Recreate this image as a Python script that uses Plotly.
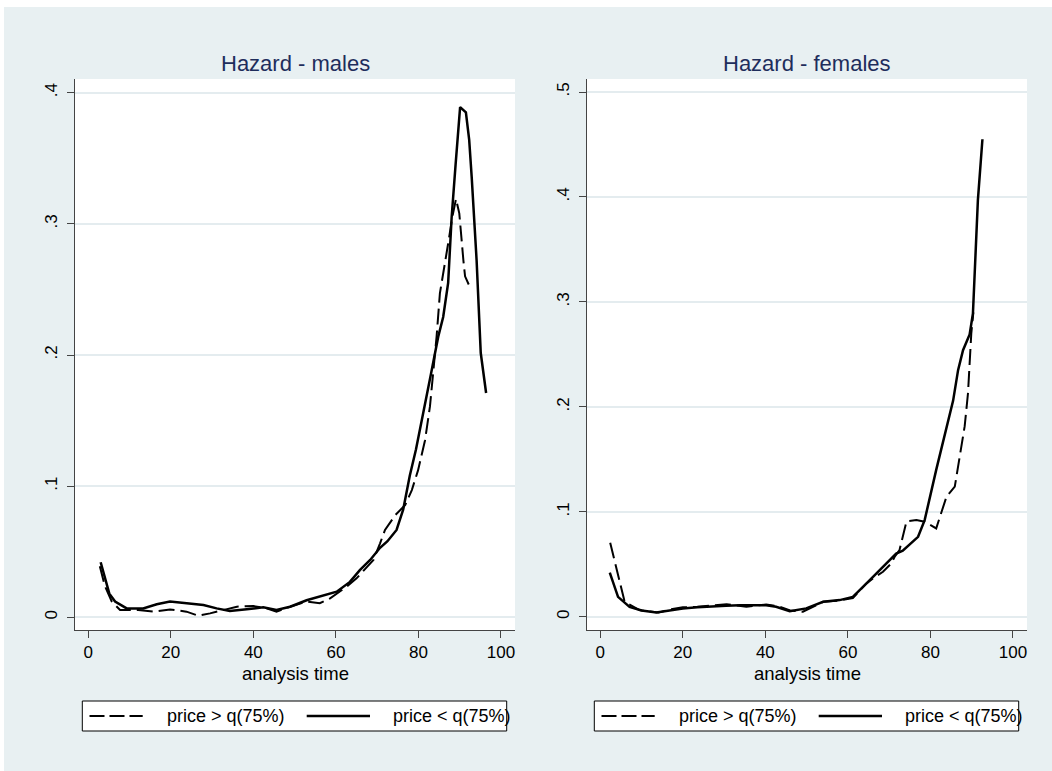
import plotly.graph_objects as go

W, H = 1052, 771

# ---------------- data ----------------
legend_labels = ["price > q(75%)", "price < q(75%)"]
panel_titles = ["Hazard - males", "Hazard - females"]
x_title = "analysis time"
x_ticks = [0, 20, 40, 60, 80, 100]
y_ticks_m = [0, 0.1, 0.2, 0.3, 0.4]
y_ticktext_m = ["0", ".1", ".2", ".3", ".4"]
y_ticks_f = [0, 0.1, 0.2, 0.3, 0.4, 0.5]
y_ticktext_f = ["0", ".1", ".2", ".3", ".4", ".5"]

# males, price > q(75%) (dashed)
m_hi_x = [2.8, 4.0, 5.7, 7.7, 10.0, 12.1, 15.8, 19.8, 23.8, 26.7, 29.5, 32.7, 36.0, 40.0, 43.2,
          45.6, 48.9, 52.9, 56.1, 58.6, 62.6, 65.0, 67.5, 69.1, 70.7, 71.9, 74.4, 76.8, 78.4, 79.9,
          81.6, 82.8, 84.4, 85.2, 87.2, 88.2, 89.1, 89.9, 90.9, 91.3, 92.3]
m_hi_y = [0.039, 0.024, 0.012, 0.0056, 0.0056, 0.0056, 0.0043, 0.006, 0.0043, 0.0012, 0.003,
          0.0056, 0.0081, 0.0086, 0.0068, 0.0043, 0.0081, 0.012, 0.0107, 0.0145, 0.0233, 0.0297,
          0.0386, 0.0437, 0.0564, 0.0666, 0.078, 0.0856, 0.097, 0.112, 0.135, 0.161, 0.214, 0.247,
          0.285, 0.305, 0.319, 0.308, 0.272, 0.26, 0.253]
# males, price < q(75%) (solid)
m_lo_x = [3.0, 5.1, 6.5, 9.3, 13.3, 16.6, 19.8, 23.8, 27.9, 31.1, 34.3, 38.4, 42.4, 45.6, 48.9,
          52.9, 57.8, 60.2, 63.4, 65.8, 68.3, 70.7, 72.5, 74.7, 76.3, 77.9, 79.4, 81.2, 83.0, 84.8,
          86.0, 87.2, 88.05, 89.0, 90.1, 91.5, 92.3, 92.9, 94.1, 95.1, 96.4]
m_lo_y = [0.042, 0.018, 0.012, 0.0068, 0.0068, 0.010, 0.012, 0.0107, 0.0094, 0.0068, 0.0048,
          0.0061, 0.0076, 0.0056, 0.0081, 0.013, 0.017, 0.0195, 0.027, 0.036, 0.0437, 0.053, 0.058,
          0.0666, 0.082, 0.108, 0.128, 0.158, 0.185, 0.214, 0.229, 0.255, 0.305, 0.345, 0.389,
          0.385, 0.364, 0.336, 0.272, 0.2015, 0.171]

# females, price > q(75%) (dashed)
f_hi_x = [2.4, 3.9, 5.9, 9.5, 14.1, 17.0, 20.0, 23.5, 27.3, 30.6, 35.4, 40.2, 43.2, 46.0, 49.1,
          54.0, 58.0, 61.2, 64.5, 66.1, 68.5, 70.5, 71.3, 72.5, 74.2, 76.6, 78.6, 81.4, 83.9, 85.9,
          88.3, 89.1, 89.9, 90.4]
f_hi_y = [0.0705, 0.046, 0.0143, 0.0064, 0.004, 0.007, 0.009, 0.0095, 0.011, 0.012, 0.0095,
          0.0118, 0.010, 0.006, 0.0048, 0.0143, 0.0155, 0.0178, 0.0318, 0.0366, 0.0429, 0.0508,
          0.057, 0.0635, 0.091, 0.0921, 0.0905, 0.0842, 0.1146, 0.124, 0.1816, 0.213, 0.27, 0.29]
# females, price < q(75%) (solid)
f_lo_x = [2.3, 4.3, 7.1, 10.0, 13.6, 17.0, 20.0, 23.5, 27.3, 30.5, 33.8, 37.0, 40.2, 42.6, 45.9,
          49.9, 54.0, 58.0, 61.2, 65.3, 69.3, 71.7, 73.3, 77.0, 78.6, 81.4, 85.5, 86.7, 87.9, 89.5,
          90.3, 91.5, 92.6]
f_lo_y = [0.042, 0.019, 0.0095, 0.006, 0.0042, 0.006, 0.008, 0.009, 0.0102, 0.0105, 0.011, 0.011,
          0.011, 0.0095, 0.0054, 0.008, 0.0143, 0.0159, 0.019, 0.035, 0.0508, 0.0603, 0.0629,
          0.0762, 0.0921, 0.140, 0.206, 0.235, 0.254, 0.269, 0.289, 0.397, 0.455]

# ---------------- style ----------------
FONT = "Liberation Sans, Arial, sans-serif"
BG = "#E8F0F2"
GRID = "#E4ECEF"
AX = "#444444"
TITLE_C = "#1E2D5C"

def px_x(p):
    return p / W

def px_y(p):
    return 1 - p / H

fig = go.Figure()

panels = [
    dict(xa="x", ya="y", hx=m_hi_x, hy=m_hi_y, lx=m_lo_x, ly=m_lo_y),
    dict(xa="x2", ya="y2", hx=f_hi_x, hy=f_hi_y, lx=f_lo_x, ly=f_lo_y),
]
for p in panels:
    fig.add_trace(go.Scatter(x=p["hx"], y=p["hy"], xaxis=p["xa"], yaxis=p["ya"], mode="lines",
                             name=legend_labels[0], showlegend=False,
                             line=dict(color="black", width=2, dash="16px,6px")))
    fig.add_trace(go.Scatter(x=p["lx"], y=p["ly"], xaxis=p["xa"], yaxis=p["ya"], mode="lines",
                             name=legend_labels[1], showlegend=False,
                             line=dict(color="black", width=2.5)))

common_x = dict(range=[-3.22, 103.4], tickvals=x_ticks, showgrid=False, zeroline=False,
                showline=True, linecolor=AX, linewidth=1, ticks="outside", ticklen=7,
                tickcolor=AX, tickwidth=1, tickfont=dict(size=17, color="black", family=FONT))
common_y = dict(showgrid=True, gridcolor=GRID, gridwidth=1.5, zeroline=False, showline=True,
                linecolor=AX, linewidth=1, ticks="outside", ticklen=7, tickcolor=AX, tickwidth=1,
                tickangle=-90, tickfont=dict(size=17, color="black", family=FONT),
                ticklabelstandoff=3)

ydom = [px_y(630), px_y(79)]
x1dom = [px_x(75), px_x(515)]
off = 512
x2dom = [px_x(75 + off), px_x(515 + off)]

fig.update_layout(
    width=W, height=H,
    margin=dict(l=0, r=0, t=0, b=0),
    paper_bgcolor=BG, plot_bgcolor="white",
    font=dict(family=FONT, color="black"),
    showlegend=False,
    xaxis=dict(common_x, domain=x1dom, anchor="y"),
    xaxis2=dict(common_x, domain=x2dom, anchor="y2"),
    yaxis=dict(common_y, domain=ydom, anchor="x", range=[-0.00968, 0.41045],
               tickvals=y_ticks_m, ticktext=y_ticktext_m),
    yaxis2=dict(common_y, domain=ydom, anchor="x2", range=[-0.01258, 0.5124],
                tickvals=y_ticks_f, ticktext=y_ticktext_f),
)

shapes = [
    # white strips at top and left of the page
    dict(type="rect", xref="paper", yref="paper", x0=0, x1=1, y0=px_y(7), y1=1,
         fillcolor="white", line=dict(width=0), layer="below"),
    dict(type="rect", xref="paper", yref="paper", x0=0, x1=px_x(4), y0=0, y1=1,
         fillcolor="white", line=dict(width=0), layer="below"),
]
annotations = []
for i, o in enumerate([0, off]):
    cx = (75 + 515) / 2 + o
    annotations.append(dict(text=panel_titles[i], xref="paper", yref="paper", x=px_x(cx),
                            y=px_y(63), xanchor="center", yanchor="middle", showarrow=False,
                            font=dict(size=22, color=TITLE_C, family=FONT)))
    annotations.append(dict(text=x_title, xref="paper", yref="paper", x=px_x(cx),
                            y=px_y(673), xanchor="center", yanchor="middle", showarrow=False,
                            font=dict(size=18.5, color="black", family=FONT)))
    # legend box
    shapes.append(dict(type="rect", xref="paper", yref="paper", x0=px_x(82.3 + o),
                       x1=px_x(506.7 + o), y0=px_y(731), y1=px_y(701), fillcolor="white",
                       line=dict(color="black", width=1)))
    ly = px_y(716)
    shapes.append(dict(type="line", xref="paper", yref="paper", x0=px_x(89.5 + o),
                       x1=px_x(142.7 + o), y0=ly, y1=ly,
                       line=dict(color="black", width=2, dash="15px,5px")))
    shapes.append(dict(type="line", xref="paper", yref="paper", x0=px_x(306.7 + o),
                       x1=px_x(370 + o), y0=ly, y1=ly, line=dict(color="black", width=2.5)))
    annotations.append(dict(text=legend_labels[0], xref="paper", yref="paper", x=px_x(165 + o),
                            y=ly, xanchor="left", yanchor="middle", showarrow=False,
                            font=dict(size=18, color="black", family=FONT)))
    annotations.append(dict(text=legend_labels[1], xref="paper", yref="paper", x=px_x(391 + o),
                            y=ly, xanchor="left", yanchor="middle", showarrow=False,
                            font=dict(size=18, color="black", family=FONT)))

fig.update_layout(shapes=shapes, annotations=annotations)
fig.write_html("out.html")
